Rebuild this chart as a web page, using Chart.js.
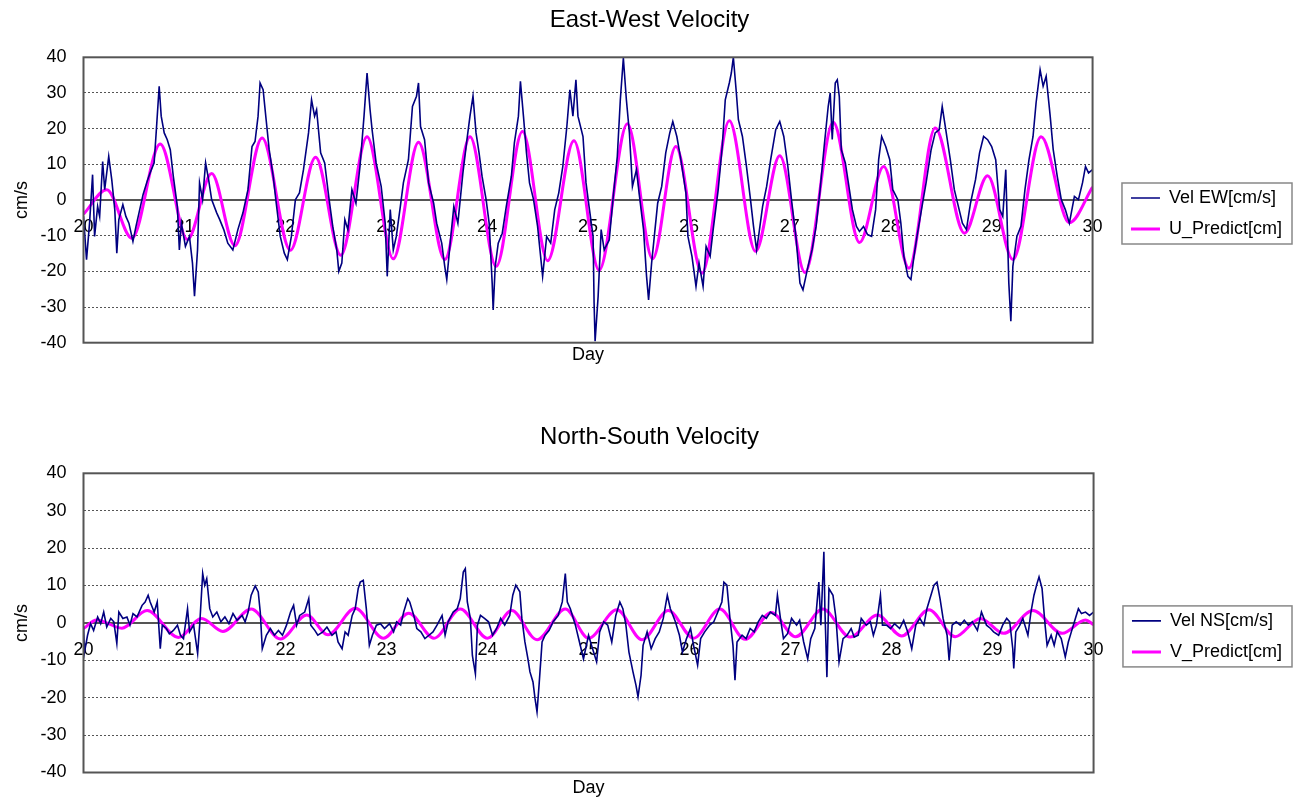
<!DOCTYPE html>
<html>
<head>
<meta charset="utf-8">
<script src="https://cdn.jsdelivr.net/npm/chart.js@4.4.1/dist/chart.umd.min.js"></script>
<style>
  html, body { margin: 0; padding: 0; background: #fff; }
  .box { position: relative; width: 1299px; }
  #top { height: 390px; }
  #bottom { height: 412px; }
</style>
</head>
<body>
<div class="box" id="top"><canvas id="ewChart"></canvas></div>
<div class="box" id="bottom"><canvas id="nsChart"></canvas></div>
<script>
// tick labels
const dayTicks = [20, 21, 22, 23, 24, 25, 26, 27, 28, 29, 30];
const velTicks = [-40, -30, -20, -10, 0, 10, 20, 30, 40];

const ewDays = [20.00,20.03,20.06,20.09,20.11,20.14,20.16,20.19,20.21,20.25,20.28,20.31,20.33,20.35,20.39,20.42,20.45,20.49,20.52,20.55,20.59,20.63,20.66,20.70,20.72,20.75,20.77,20.80,20.83,20.86,20.89,20.93,20.95,20.97,21.01,21.05,21.08,21.10,21.13,21.15,21.18,21.21,21.24,21.27,21.32,21.35,21.39,21.43,21.48,21.53,21.58,21.63,21.67,21.70,21.73,21.75,21.78,21.81,21.84,21.88,21.91,21.95,21.99,22.02,22.06,22.10,22.14,22.18,22.23,22.26,22.29,22.31,22.35,22.39,22.43,22.47,22.51,22.53,22.56,22.59,22.62,22.66,22.70,22.74,22.78,22.81,22.84,22.86,22.90,22.95,22.99,23.01,23.04,23.07,23.10,23.14,23.17,23.22,23.26,23.30,23.32,23.34,23.38,23.42,23.47,23.50,23.55,23.58,23.60,23.64,23.67,23.71,23.76,23.80,23.83,23.86,23.89,23.92,23.95,23.99,24.02,24.05,24.06,24.08,24.11,24.15,24.19,24.24,24.27,24.31,24.33,24.36,24.39,24.42,24.46,24.50,24.55,24.59,24.63,24.67,24.71,24.75,24.79,24.82,24.85,24.88,24.90,24.95,24.98,25.01,25.05,25.06,25.07,25.10,25.13,25.16,25.21,25.25,25.29,25.32,25.35,25.38,25.41,25.44,25.48,25.51,25.55,25.58,25.60,25.63,25.66,25.69,25.73,25.77,25.81,25.84,25.88,25.92,25.97,25.99,26.03,26.07,26.10,26.14,26.17,26.21,26.24,26.29,26.33,26.36,26.40,26.42,26.44,26.47,26.49,26.53,26.57,26.61,26.64,26.67,26.69,26.73,26.77,26.81,26.86,26.90,26.94,26.98,27.02,27.06,27.10,27.13,27.18,27.22,27.26,27.30,27.34,27.38,27.40,27.42,27.45,27.47,27.49,27.51,27.55,27.59,27.62,27.66,27.69,27.73,27.77,27.81,27.85,27.88,27.91,27.95,27.99,28.02,28.07,28.10,28.13,28.17,28.20,28.23,28.26,28.31,28.35,28.40,28.44,28.48,28.51,28.55,28.59,28.63,28.67,28.71,28.75,28.79,28.84,28.88,28.92,28.96,29.00,29.04,29.08,29.11,29.14,29.16,29.17,29.19,29.21,29.25,29.29,29.33,29.37,29.41,29.44,29.48,29.51,29.54,29.58,29.61,29.65,29.69,29.73,29.77,29.82,29.86,29.90,29.93,29.96,30.00];
const ewVel = [-4.6,-16.7,-6.5,7.1,-10.2,-1.8,-4.6,10.8,2.9,12.2,5.7,-2.7,-14.9,-5.5,-1.3,-4.6,-6.5,-11.6,-7.4,-3.6,1.5,5.2,7.6,10.4,18.8,31.9,23.5,18.8,16.9,14.1,6.6,-1.8,-14.0,-6.5,-13.0,-10.2,-17.7,-27.0,-14.0,4.8,0.1,10.4,5.7,0.1,-3.6,-5.5,-8.3,-12.1,-14.0,-8.3,-3.6,2.9,15.0,16.4,23.5,32.8,30.9,22.5,14.1,6.6,-0.9,-10.2,-14.9,-16.7,-10.2,0.1,2.0,8.5,18.8,28.1,23.5,25.3,13.2,10.4,1.0,-7.4,-14.0,-20.0,-17.7,-5.5,-8.3,2.9,-0.9,9.4,23.5,35.6,25.3,19.7,10.4,3.8,-6.5,-21.4,-2.7,-14.0,-10.2,-1.8,4.8,11.3,26.2,29.1,32.8,20.6,16.9,4.8,-0.9,-6.5,-12.1,-18.6,-22.3,-10.2,-1.8,-6.5,7.6,16.9,23.5,29.1,18.8,13.2,6.6,0.1,-6.5,-23.3,-30.8,-18.6,-12.1,-9.3,-1.8,6.6,16.0,23.5,33.3,23.5,13.2,4.8,0.1,-7.4,-21.4,-10.2,-12.1,-2.7,2.0,9.4,20.6,30.9,23.5,33.7,23.5,17.8,4.8,-1.8,-10.2,-28.9,-39.6,-27.0,-8.3,-14.0,-11.2,1.0,12.2,28.1,39.8,28.1,18.8,3.8,8.5,1.0,-8.3,-21.4,-28.0,-17.7,-9.3,-0.9,3.8,13.2,18.8,22.0,17.8,11.3,2.0,-10.2,-15.8,-24.2,-17.7,-24.2,-13.0,-15.8,-8.3,2.9,15.0,28.1,32.8,35.6,40.0,30.0,22.5,17.8,9.4,0.1,-7.4,-14.0,-10.2,-1.8,3.8,11.3,19.7,22.0,17.8,9.4,-0.9,-10.2,-23.3,-25.2,-18.6,-14.0,-7.4,2.9,15.0,26.2,30.0,17.0,32.8,33.7,29.0,14.1,10.4,2.9,-2.7,-7.4,-8.8,-7.4,-9.7,-10.2,-2.7,11.3,17.8,15.0,11.3,2.9,0.1,-6.5,-15.8,-21.4,-22.3,-15.8,-10.2,-1.8,4.8,14.1,18.8,19.7,26.2,18.8,11.3,2.9,-1.8,-6.5,-8.3,-0.9,5.7,13.2,17.8,16.9,15.0,11.3,-2.7,-4.6,8.5,-13.0,-23.3,-34.0,-18.6,-10.2,-7.4,2.9,11.3,17.8,27.2,36.5,31.9,34.7,23.5,14.1,6.6,0.1,-2.7,-6.5,1.0,0.1,4.8,9.4,7.6,8.5];

// East-West predicted velocity, turning points
const uDays = [20.00,20.23,20.48,20.76,21.03,21.27,21.50,21.77,22.05,22.30,22.55,22.81,23.07,23.32,23.58,23.83,24.09,24.35,24.60,24.86,25.11,25.39,25.64,25.87,26.13,26.40,26.66,26.90,27.15,27.43,27.69,27.93,28.18,28.44,28.73,28.96,29.21,29.49,29.77,30.00];
const uPred = [-4.0,2.9,-10.7,15.7,-11.1,7.4,-12.8,17.4,-14.1,12.0,-15.5,17.7,-16.5,16.2,-16.7,17.7,-18.6,19.2,-17.0,16.6,-19.7,21.4,-16.5,15.0,-20.5,22.2,-14.4,12.4,-20.3,21.8,-11.9,9.4,-19.1,20.2,-9.3,6.8,-16.7,17.7,-6.4,3.6];

// North-South measured velocity
const nsDays = [20.00,20.01,20.04,20.07,20.10,20.14,20.17,20.20,20.23,20.27,20.30,20.33,20.35,20.39,20.43,20.46,20.49,20.53,20.58,20.61,20.64,20.66,20.70,20.73,20.76,20.78,20.82,20.85,20.89,20.93,20.96,20.99,21.03,21.05,21.09,21.13,21.15,21.18,21.20,21.22,21.25,21.28,21.32,21.36,21.40,21.44,21.48,21.52,21.57,21.60,21.63,21.66,21.70,21.73,21.75,21.77,21.81,21.85,21.89,21.93,21.97,22.01,22.05,22.08,22.11,22.14,22.19,22.23,22.25,22.29,22.32,22.37,22.41,22.46,22.50,22.52,22.56,22.59,22.62,22.66,22.69,22.72,22.74,22.77,22.80,22.83,22.86,22.90,22.94,22.98,23.03,23.07,23.10,23.14,23.17,23.21,23.23,23.27,23.30,23.34,23.38,23.42,23.46,23.50,23.55,23.58,23.61,23.66,23.70,23.73,23.76,23.78,23.80,23.83,23.85,23.88,23.90,23.93,23.97,24.01,24.05,24.09,24.13,24.17,24.22,24.25,24.28,24.32,24.34,24.37,24.40,24.42,24.45,24.47,24.49,24.51,24.54,24.57,24.61,24.65,24.70,24.74,24.77,24.79,24.82,24.87,24.91,24.95,25.00,25.04,25.08,25.11,25.15,25.19,25.23,25.27,25.31,25.34,25.37,25.40,25.44,25.47,25.49,25.52,25.54,25.58,25.62,25.66,25.70,25.74,25.78,25.81,25.86,25.90,25.93,25.97,26.01,26.04,26.08,26.11,26.15,26.20,26.24,26.28,26.32,26.34,26.37,26.40,26.43,26.45,26.47,26.52,26.56,26.60,26.64,26.68,26.72,26.76,26.80,26.85,26.87,26.90,26.93,26.97,27.01,27.06,27.09,27.13,27.17,27.20,27.24,27.28,27.30,27.33,27.34,27.36,27.38,27.42,27.45,27.48,27.52,27.56,27.60,27.63,27.67,27.70,27.75,27.79,27.82,27.85,27.89,27.91,27.95,27.99,28.03,28.08,28.12,28.16,28.20,28.24,28.28,28.32,28.35,28.39,28.42,28.45,28.48,28.51,28.55,28.57,28.60,28.64,28.68,28.72,28.76,28.80,28.85,28.89,28.94,28.98,29.01,29.06,29.10,29.14,29.17,29.20,29.21,29.23,29.27,29.30,29.35,29.38,29.41,29.44,29.46,29.49,29.52,29.54,29.58,29.61,29.64,29.68,29.72,29.75,29.78,29.82,29.85,29.88,29.92,29.96,30.00];
const nsVel = [-1.0,-7.8,-3.3,-0.2,-2.0,1.6,-0.2,2.9,-1.1,1.2,0.3,-5.5,2.9,1.2,1.6,-0.6,2.5,1.6,4.7,5.6,7.4,5.6,2.9,5.6,-6.9,-0.6,-1.5,-2.9,-2.0,-0.6,-3.3,-4.2,3.8,-2.4,-0.6,-8.2,-0.6,13.2,10.1,11.8,3.8,1.6,2.9,0.3,1.6,-0.2,2.5,0.7,2.0,0.3,2.9,7.4,9.9,8.3,2.9,-6.9,-3.3,-1.5,-3.3,-2.0,-3.3,-0.6,2.9,4.7,-0.6,2.0,2.9,6.5,-0.6,-2.0,-3.3,-2.4,-1.1,-3.3,-2.4,-5.1,-6.9,-2.4,-3.3,2.0,3.8,9.2,10.9,11.4,3.8,-6.0,-3.3,-0.6,-0.2,-1.5,-0.2,-2.4,0.3,-0.6,2.9,6.5,5.6,2.0,-1.5,-2.4,-4.2,-3.3,-2.4,-0.6,2.0,-3.3,0.3,2.9,3.8,6.5,13.6,14.5,5.6,1.2,-8.7,-13.6,-0.6,2.0,1.2,0.3,-3.3,-1.5,1.2,-0.6,2.0,7.4,10.1,8.3,1.2,-5.1,-9.6,-13.1,-15.8,-20.2,-23.8,-16.7,-5.1,-3.3,-2.0,0.3,2.0,5.6,13.2,5.6,3.8,-0.6,-5.1,-9.6,-3.3,-6.9,-10.4,-2.4,0.3,-0.6,-5.1,2.0,5.6,3.8,-0.6,-7.8,-13.1,-16.7,-19.8,-14.0,-6.0,-2.4,-6.9,-4.2,-2.4,1.2,7.4,3.8,0.3,-3.3,-7.8,-4.2,-1.5,-6.0,-11.3,-4.2,-2.4,-0.6,0.3,2.9,5.6,10.9,10.1,1.2,-6.0,-15.3,-5.1,-3.3,-4.2,-1.5,-2.4,0.3,2.0,1.2,2.9,2.0,7.4,1.2,-4.2,-2.9,1.2,-0.6,0.7,-5.1,-9.6,-4.2,-1.5,10.9,-0.6,19.0,3.8,-14.5,9.2,7.4,1.2,-10.4,-4.2,-3.3,-1.5,-3.8,-3.3,1.2,-0.6,0.3,-3.3,-0.6,7.4,-0.6,-0.6,-1.5,-0.2,-1.5,0.7,-2.4,-6.9,-0.6,1.2,-0.6,3.8,7.4,10.1,10.9,6.5,1.2,-3.3,-10.0,-0.6,0.3,-0.6,0.7,-0.6,0.3,-2.0,2.9,-0.6,-1.5,-2.4,-3.3,-0.6,1.2,0.3,-6.9,-12.2,-2.4,-0.6,1.2,-3.3,2.9,7.4,10.5,12.3,9.2,-0.6,-6.0,-3.3,-6.0,-2.4,-4.2,-9.1,-5.1,-2.4,1.2,3.8,2.5,2.9,2.0,2.9];

// North-South predicted velocity, turning points
const vDays = [20.00,20.13,20.38,20.63,20.94,21.17,21.38,21.66,21.95,22.21,22.42,22.69,22.97,23.22,23.47,23.73,24.00,24.24,24.49,24.77,25.00,25.28,25.53,25.79,26.04,26.30,26.55,26.81,27.05,27.32,27.59,27.86,28.10,28.37,28.63,28.88,29.11,29.40,29.69,29.92,30.00];
const vPred = [-1.5,0.8,-1.4,3.3,-3.9,1.2,-2.3,3.7,-4.3,2.1,-3.2,3.9,-4.1,2.6,-4.1,3.7,-4.1,3.3,-4.5,3.7,-4.1,3.5,-4.5,3.3,-4.1,3.7,-4.4,2.8,-3.7,3.7,-3.8,2.1,-3.5,3.5,-3.7,1.2,-2.8,3.3,-2.8,0.8,-0.5];

Chart.defaults.font.family = "'Liberation Sans', Arial, sans-serif";
Chart.defaults.color = '#000';

const zip = (xs, ys) => xs.map((x, i) => ({ x: x, y: ys[i] }));

// plot area frame
const framePlugin = {
  id: 'frame',
  afterDatasetsDraw(chart) {
    const { ctx, chartArea: a } = chart;
    ctx.save();
    ctx.strokeStyle = '#555';
    ctx.lineWidth = 2;
    ctx.strokeRect(a.left, a.top, a.right - a.left, a.bottom - a.top);
    ctx.restore();
  }
};

// box round the legend
const legendBoxPlugin = {
  id: 'legendBox',
  afterDraw(chart) {
    const hb = chart.legend && chart.legend.legendHitBoxes;
    if (!hb || !hb.length) return;
    const l = Math.min(...hb.map(b => b.left)) - 9;
    const t = Math.min(...hb.map(b => b.top)) - 6;
    const r = Math.max(...hb.map(b => b.left + b.width)) + 10;
    const bt = Math.max(...hb.map(b => b.top + b.height)) + 6;
    const ctx = chart.ctx;
    ctx.save();
    ctx.strokeStyle = '#888';
    ctx.lineWidth = 1.5;
    ctx.strokeRect(l, t, r - l, bt - t);
    ctx.restore();
  }
};

function makeChart(id, cfg) {
  return new Chart(document.getElementById(id), {
    type: 'line',
    data: {
      datasets: [
        {
          label: cfg.obsLabel,
          data: zip(cfg.obsX, cfg.obsY),
          borderColor: '#000080',
          borderWidth: 1.6,
          pointRadius: 0,
          tension: 0,
          xAxisID: 'x',
          yAxisID: 'y',
        },
        {
          label: cfg.predLabel,
          data: zip(cfg.predX, cfg.predY),
          borderColor: '#ff00ff',
          borderWidth: 3,
          pointRadius: 0,
          tension: 0.4,
          cubicInterpolationMode: 'monotone',
          xAxisID: 'x',
          yAxisID: 'y',
        },
      ],
    },
    options: {
      responsive: true,
      maintainAspectRatio: false,
      animation: false,
      layout: { padding: { left: 7, right: 7, top: 0, bottom: cfg.padBottom } },
      plugins: {
        title: {
          display: true,
          text: cfg.title,
          color: '#000',
          font: { size: 24, weight: 'normal' },
          padding: { top: cfg.titleTop, bottom: cfg.titleBottom },
        },
        legend: {
          position: 'right',
          fullSize: false,
          title: { display: true, text: '', font: { size: 10 }, padding: 7.5 },
          labels: {
            usePointStyle: true,
            pointStyle: 'line',
            pointStyleWidth: 29,
            padding: 13,
            color: '#000',
            font: { size: 18 },
          },
        },
        tooltip: { enabled: false },
      },
      scales: {
        x: {
          type: 'linear',
          min: 20,
          max: 30,
          position: { y: 0 },
          afterBuildTicks: (s) => { s.ticks = dayTicks.map(v => ({ value: v })); },
          ticks: { padding: 16, color: '#000', font: { size: 18 }, maxRotation: 0 },
          grid: { display: false, drawTicks: false },
          border: { display: true, color: '#555', width: 2 },
        },
        xTitle: {
          type: 'linear',
          axis: 'x',
          position: 'bottom',
          min: 20,
          max: 30,
          ticks: { display: false },
          grid: { display: false, drawTicks: false },
          border: { display: false },
          title: { display: true, text: 'Day', color: '#000', font: { size: 18 }, padding: { top: cfg.dayTop, bottom: 2 } },
        },
        y: {
          type: 'linear',
          min: -40,
          max: 40,
          afterBuildTicks: (s) => { s.ticks = velTicks.map(v => ({ value: v })); },
          afterFit: (s) => { s.width = 76.5; },
          ticks: { padding: 17, color: '#000', font: { size: 18 } },
          grid: {
            drawTicks: false,
            lineWidth: 1,
            color: (c) => (c.tick && (c.tick.value === 0 || Math.abs(c.tick.value) === 40)) ? 'rgba(0,0,0,0)' : '#555',
          },
          border: { display: false, dash: [2, 2] },
          title: { display: true, text: 'cm/s', color: '#000', font: { size: 18 }, padding: { top: 4, bottom: 4 } },
        },
        ySpacer: {
          type: 'linear',
          axis: 'y',
          position: 'right',
          min: 0,
          max: 1,
          ticks: { display: false },
          grid: { display: false, drawTicks: false },
          border: { display: false },
          afterFit: (s) => { s.width = 25.4; },
        },
      },
    },
    plugins: [framePlugin, legendBoxPlugin],
  });
}

makeChart('ewChart', {
  title: 'East-West Velocity',
  obsLabel: 'Vel EW[cm/s]',
  predLabel: 'U_Predict[cm]',
  obsX: ewDays, obsY: ewVel,
  predX: uDays, predY: uPred,
  titleTop: 6, titleBottom: 22.5,
  dayTop: 2, padBottom: 21.7,
});

makeChart('nsChart', {
  title: 'North-South Velocity',
  obsLabel: 'Vel NS[cm/s]',
  predLabel: 'V_Predict[cm]',
  obsX: nsDays, obsY: nsVel,
  predX: vDays, predY: vPred,
  titleTop: 32.6, titleBottom: 21.9,
  dayTop: 5, padBottom: 0.9,
});
</script>
</body>
</html>
